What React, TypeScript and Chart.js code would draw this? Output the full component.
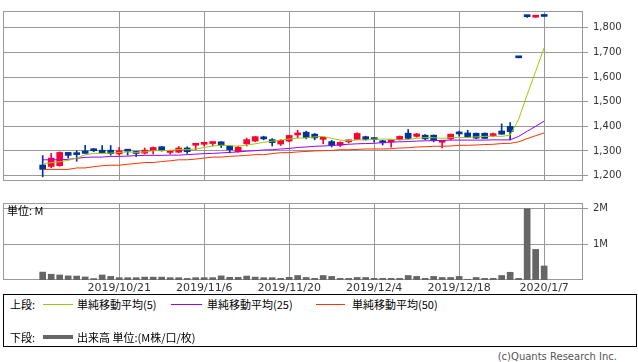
import React, { useEffect, useRef } from 'react';
import { Chart, registerables } from 'chart.js';
Chart.register(...registerables);

const dates = [
  '2019/10/7','2019/10/8','2019/10/9','2019/10/10','2019/10/11','2019/10/15','2019/10/16','2019/10/17','2019/10/18','2019/10/21',
  '2019/10/23','2019/10/24','2019/10/25','2019/10/28','2019/10/29','2019/10/30','2019/10/31','2019/11/1','2019/11/5','2019/11/6',
  '2019/11/7','2019/11/8','2019/11/11','2019/11/12','2019/11/13','2019/11/14','2019/11/15','2019/11/18','2019/11/19','2019/11/20',
  '2019/11/21','2019/11/22','2019/11/25','2019/11/26','2019/11/27','2019/11/28','2019/11/29','2019/12/2','2019/12/3','2019/12/4',
  '2019/12/5','2019/12/6','2019/12/9','2019/12/10','2019/12/11','2019/12/12','2019/12/13','2019/12/16','2019/12/17','2019/12/18',
  '2019/12/19','2019/12/20','2019/12/23','2019/12/24','2019/12/25','2019/12/26','2019/12/27','2019/12/30','2020/1/6','2020/1/7',
];
const tickDates = ['2019/10/21', '2019/11/6', '2019/11/20', '2019/12/4', '2019/12/18', '2020/1/7'];
const priceTicks = [1200, 1300, 1400, 1500, 1600, 1700, 1800];
const volumeTicks = [1, 2];

const opens = [1243,1237,1240,1294,1292,1300,1304,1303,1303,1288,1302,1297,1291,1301,1317,1294,1295,1312,1323,1327,1330,1337,1320,1297,1329,1340,1356,1346,1328,1340,1365,1376,1368,1347,1338,1323,1337,1347,1358,1351,1339,1336,1346,1372,1359,1364,1364,1335,1349,1373,1373,1372,1372,1362,1381,1400,1678,1846,1843,1847];
const highs = [1281,1290,1296,1294,1301,1323,1309,1322,1322,1314,1304,1298,1312,1316,1318,1303,1318,1317,1330,1333,1338,1338,1321,1320,1352,1358,1360,1350,1346,1364,1384,1380,1371,1355,1343,1337,1344,1374,1360,1354,1343,1344,1361,1387,1371,1366,1365,1343,1369,1381,1384,1373,1373,1372,1410,1415,1678,1849,1848,1847];
const lows = [1195,1232,1238,1271,1258,1290,1297,1291,1283,1283,1283,1277,1287,1287,1299,1287,1293,1290,1305,1320,1320,1314,1292,1295,1320,1338,1345,1320,1322,1337,1354,1349,1345,1329,1316,1318,1332,1345,1344,1336,1324,1315,1344,1348,1356,1346,1337,1312,1345,1360,1355,1350,1350,1358,1367,1345,1678,1842,1842,1846];
const closes = [1225,1271,1294,1282,1285,1290,1301,1292,1289,1300,1299,1290,1303,1314,1301,1301,1312,1297,1329,1330,1334,1323,1305,1315,1346,1358,1349,1334,1343,1363,1372,1354,1353,1354,1322,1335,1343,1371,1347,1346,1333,1342,1359,1351,1369,1349,1343,1341,1368,1369,1356,1352,1351,1370,1368,1378,1678,1845,1848,1846];
const ma5 = [1249,1252,1256,1262,1271,1284,1290,1290,1291,1294,1296,1294,1296,1301,1301,1302,1306,1305,1308,1314,1320,1323,1322,1319,1324,1329,1335,1340,1344,1348,1352,1353,1357,1359,1351,1344,1341,1345,1344,1348,1348,1348,1345,1346,1351,1354,1354,1351,1354,1354,1355,1357,1359,1360,1359,1364,1429,1528,1623,1719];
const ma25 = [1264,1264,1264,1266,1270,1274,1275,1275,1278,1278,1279,1281,1282,1282,1282,1283,1283,1285,1287,1289,1290,1292,1294,1296,1299,1301,1304,1305,1308,1310,1314,1316,1319,1320,1322,1325,1327,1329,1330,1331,1334,1336,1337,1338,1340,1341,1342,1343,1344,1344,1344,1344,1344,1345,1345,1345,1359,1380,1400,1421];
const ma50 = [1225,1225,1225,1225,1231,1231,1236,1240,1242,1242,1246,1249,1253,1253,1257,1260,1264,1264,1267,1271,1275,1275,1278,1280,1282,1285,1285,1289,1293,1293,1296,1298,1300,1301,1302,1305,1305,1306,1308,1308,1308,1309,1312,1313,1316,1317,1319,1319,1320,1323,1323,1324,1326,1327,1330,1331,1337,1350,1362,1373];
const volumes = [0.22,0.16,0.14,0.115,0.11,0.085,0.04,0.14,0.1,0.065,0.065,0.065,0.08,0.08,0.08,0.065,0.065,0.045,0.065,0.065,0.065,0.115,0.075,0.075,0.11,0.08,0.065,0.065,0.045,0.075,0.125,0.07,0.045,0.125,0.1,0.045,0.045,0.07,0.07,0.045,0.045,0.045,0.045,0.125,0.1,0.045,0.1,0.07,0.07,0.1,0.02,0.07,0.045,0.045,0.125,0.215,0.045,1.98,0.85,0.39];

const UP = '#ff0033';
const DOWN = '#003399';
const GRID = '#999999';
const X_MIN = -4.67;
const X_MAX = 63.57;
const tickIdx = tickDates.map((d) => dates.indexOf(d));

const frame = {
  id: 'frame',
  beforeDatasetsDraw(chart: any) {
    const { ctx, chartArea: a } = chart;
    ctx.save();
    ctx.strokeStyle = GRID;
    ctx.lineWidth = 1;
    const l = Math.round(a.left) + 0.5;
    const r = Math.round(a.right) - 0.5;
    const t = Math.round(a.top) + 0.5;
    const b = Math.round(a.bottom) - 0.5;
    ctx.strokeRect(l, t, r - l, b - t);
    ctx.restore();
  },
};

const axisFont = { family: 'DejaVu Sans', size: 10 };

function xScale(showLabels: boolean) {
  return {
    type: 'linear',
    min: X_MIN,
    max: X_MAX,
    offset: false,
    afterBuildTicks: (s: any) => {
      s.ticks = tickIdx.map((v) => ({ value: v }));
    },
    afterFit: (s: any) => {
      s.height = showLabels ? 14 : 0;
    },
    ticks: {
      display: showLabels,
      autoSkip: false,
      maxRotation: 0,
      padding: 2,
      color: '#333',
      font: { family: 'DejaVu Sans', size: 11 },
      callback: (v: any) => dates[v] ?? '',
    },
    grid: { color: GRID, drawTicks: false, offset: false },
    border: { display: false },
  };
}

export default function App() {
  const topRef = useRef<HTMLCanvasElement>(null);
  const volRef = useRef<HTMLCanvasElement>(null);

  useEffect(() => {
    const colors = closes.map((c, i) => (c > opens[i] ? UP : DOWN));
    const line = (data: number[], color: string) => ({
      type: 'line',
      data: data.map((v, i) => ({ x: i, y: v })),
      borderColor: color,
      borderWidth: 1,
      pointRadius: 0,
      tension: 0,
      order: 0,
    });
    const top = new Chart(topRef.current!, {
      type: 'bar',
      data: {
        datasets: [
          line(ma5, '#99cc00'),
          line(ma25, '#9900ff'),
          line(ma50, '#ff3300'),
          {
            type: 'bar',
            data: lows.map((l, i) => ({ x: i, y: [l, highs[i]] })),
            backgroundColor: colors,
            barThickness: 1,
            grouped: false,
            order: 2,
          },
          {
            type: 'bar',
            data: opens.map((o, i) => ({ x: i, y: [o, closes[i]] })),
            backgroundColor: colors,
            barThickness: 6,
            minBarLength: 2,
            grouped: false,
            order: 1,
          },
        ],
      } as any,
      options: {
        animation: false,
        responsive: false,
        maintainAspectRatio: false,
        layout: { padding: { left: 3, top: 0.5, right: 0, bottom: 2 } },
        plugins: { legend: { display: false }, tooltip: { enabled: false } },
        scales: {
          x: xScale(false),
          y: {
            type: 'linear',
            position: 'right',
            min: 1178,
            max: 1868,
            beginAtZero: false,
            afterBuildTicks: (s: any) => {
              s.ticks = priceTicks.map((v) => ({ value: v }));
            },
            afterFit: (s: any) => {
              s.width = 55;
            },
            ticks: {
              padding: 5,
              color: '#333',
              font: axisFont,
              callback: (v: any) => Number(v).toLocaleString('en-US'),
            },
            grid: { color: GRID, tickLength: 5 },
            border: { display: false },
          },
        },
      } as any,
      plugins: [frame],
    });

    const vol = new Chart(volRef.current!, {
      type: 'bar',
      data: {
        datasets: [
          {
            data: volumes.map((v, i) => ({ x: i, y: v })),
            backgroundColor: '#666666',
            barThickness: 6,
            grouped: false,
          },
        ],
      } as any,
      options: {
        animation: false,
        responsive: false,
        maintainAspectRatio: false,
        layout: { padding: { left: 3, top: 9.5, right: 0, bottom: 0 } },
        plugins: { legend: { display: false }, tooltip: { enabled: false } },
        scales: {
          x: xScale(true),
          y: {
            type: 'linear',
            position: 'right',
            min: 0,
            max: 2.14,
            afterBuildTicks: (s: any) => {
              s.ticks = volumeTicks.map((v) => ({ value: v }));
            },
            afterFit: (s: any) => {
              s.width = 55;
            },
            ticks: {
              padding: 5,
              color: '#333',
              font: axisFont,
              callback: (v: any) => `${v}M`,
            },
            grid: { color: GRID, tickLength: 5 },
            border: { display: false },
          },
        },
      } as any,
      plugins: [frame],
    });

    return () => {
      top.destroy();
      vol.destroy();
    };
  }, []);

  const jp = '"Noto Sans CJK JP", sans-serif';
  const txt = (left: number, cy: number, s: string, size = 11): any => (
    <span
      style={{
        position: 'absolute',
        left,
        top: cy - 7,
        lineHeight: '14px',
        fontSize: size,
        fontFamily: jp,
        color: '#000',
        whiteSpace: 'nowrap',
      }}
    >
      {s}
    </span>
  );
  const sample = (left: number, right: number, cy: number, color: string, h = 1) => (
    <div
      style={{
        position: 'absolute',
        left,
        width: right - left,
        top: cy - h / 2,
        height: h,
        background: color,
      }}
    />
  );

  return (
    <div style={{ position: 'absolute', left: 0, top: 0, width: 638, height: 362, background: '#fff', overflow: 'hidden' }}>
      <canvas ref={topRef} width={638} height={192} style={{ position: 'absolute', left: 0, top: 0, width: 638, height: 192 }} />
      <canvas ref={volRef} width={638} height={102} style={{ position: 'absolute', left: 0, top: 192, width: 638, height: 102 }} />
      {txt(7, 210, '単位: M', 11)}
      <div
        style={{
          position: 'absolute',
          left: 3,
          top: 294,
          width: 634,
          height: 53,
          border: '1px solid #000',
          boxSizing: 'border-box',
        }}
      />
      {txt(10, 304, '上段:')}
      {sample(43, 73, 304, '#99cc00')}
      {txt(77, 304, '単純移動平均(5)')}
      {sample(171, 202, 304, '#9900ff')}
      {txt(207, 304, '単純移動平均(25)')}
      {sample(316, 345, 304, '#ff3300')}
      {txt(352, 304, '単純移動平均(50)')}
      {txt(10, 337, '下段:')}
      {sample(43, 73, 337, '#666666', 4)}
      {txt(77, 337, '出来高 単位:(M株/口/枚)')}
      <span
        style={{
          position: 'absolute',
          right: 21,
          top: 350,
          lineHeight: '14px',
          fontSize: 10,
          fontFamily: '"DejaVu Sans", sans-serif',
          color: '#555',
          whiteSpace: 'nowrap',
        }}
      >
        (c)Quants Research Inc.
      </span>
    </div>
  );
}
